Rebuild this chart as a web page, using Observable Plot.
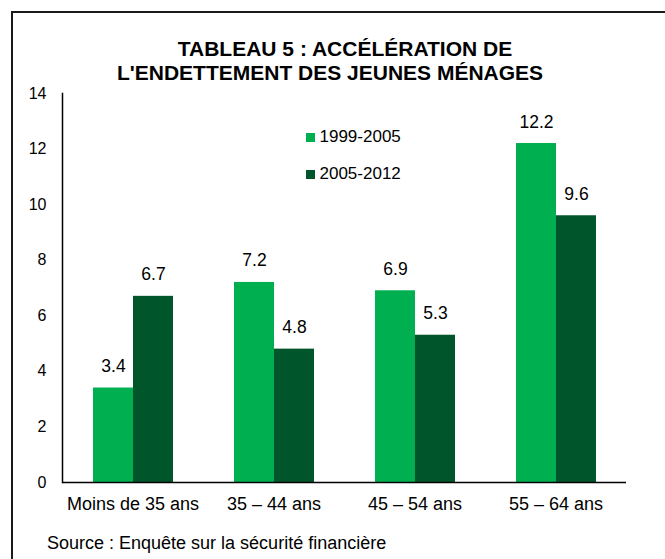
<!DOCTYPE html>
<html><head><meta charset="utf-8">
<script src="https://cdn.jsdelivr.net/npm/d3@7"></script>
<script src="https://cdn.jsdelivr.net/npm/@observablehq/plot@0.6"></script>
<style>
body{margin:0;background:#fff;font-family:"Liberation Sans",Arial,sans-serif;color:#000}
#wrap{position:relative;width:665px;height:559px;overflow:hidden;background:#fff}
.abs{position:absolute;white-space:nowrap;line-height:1}
#wrap svg{position:absolute;left:0;top:0}
</style></head><body><div id="wrap"></div>
<script>
const categories = ["Moins de 35 ans", "35 – 44 ans", "45 – 54 ans", "55 – 64 ans"];
const series = ["1999-2005", "2005-2012"];
const values1999 = [3.4, 7.2, 6.9, 12.2];
const values2005 = [6.7, 4.8, 5.3, 9.6];
const yTicks = [0, 2, 4, 6, 8, 10, 12, 14];
const colors = ["#00b050", "#00552a"];
const titleLines = ["TABLEAU 5 : ACCÉLÉRATION DE", "L'ENDETTEMENT DES JEUNES MÉNAGES"];
const sourceText = "Source : Enquête sur la sécurité financière";

const data = categories.flatMap((c, i) => [
  {category: c, series: series[0], value: values1999[i]},
  {category: c, series: series[1], value: values2005[i]}
]);

const FONT = '"Liberation Sans", Arial, sans-serif';
const wrap = document.getElementById("wrap");

// border
const border = document.createElement("div");
border.style.cssText = "position:absolute;left:11px;top:11px;width:700px;height:600px;border:2px solid #1a1a1a;box-sizing:border-box";
wrap.appendChild(border);

const chart = Plot.plot({
  width: 665, height: 559,
  marginLeft: 62, marginRight: 39, marginTop: 93, marginBottom: 77,
  style: {fontFamily: FONT, color: "#000", background: "transparent"},
  fx: {domain: categories, padding: 0},
  x: {domain: series, paddingInner: 0, paddingOuter: 0.7625},
  y: {domain: [0, 14]},
  color: {domain: series, range: colors},
  marks: [
    Plot.barY(data, {fx: "category", x: "series", y: "value", fill: "series"}),
    Plot.text(data, {fx: "category", x: "series", y: "value", text: d => d.value.toFixed(1), lineAnchor: "bottom", dy: -16, fontSize: 17.5, fill: "#000"}),
    Plot.ruleY([0], {stroke: "#000", strokeWidth: 1.5}),
    Plot.frame({anchor: "left", facetAnchor: "left", stroke: "#000", strokeWidth: 1.5}),
    Plot.axisY({ticks: yTicks, tickSize: 0, tickPadding: 16, fontSize: 16, label: null, tickFormat: d => String(d)}),
    Plot.axisFx({anchor: "bottom", tickSize: 0, tickPadding: 15, fontSize: 18, label: null}),
    Plot.axisX({ticks: [], label: null, tickSize: 0})
  ]
});
wrap.appendChild(chart);

function addText(txt, opts) {
  const d = document.createElement("div");
  d.className = "abs";
  d.textContent = txt;
  const fs = opts.fontSize;
  let css = `font-size:${fs}px;font-weight:${opts.bold ? "bold" : "normal"};top:${opts.baseline - 0.8465 * fs}px;`;
  if (opts.center != null) css += `left:${opts.center - 300}px;width:600px;text-align:center;`;
  else css += `left:${opts.left}px;`;
  d.style.cssText = css;
  wrap.appendChild(d);
}

addText(titleLines[0], {fontSize: 21, bold: true, baseline: 55.4, center: 345});
addText(titleLines[1], {fontSize: 21, bold: true, baseline: 80, center: 330});
addText(sourceText, {fontSize: 18, baseline: 549, left: 47});

// legend
const legendRows = [{y: 133, base: 142.7}, {y: 170, base: 179.3}];
series.forEach((s, i) => {
  const sw = document.createElement("div");
  sw.style.cssText = `position:absolute;left:306px;top:${legendRows[i].y}px;width:9px;height:9px;background:${colors[i]}`;
  wrap.appendChild(sw);
  addText(s, {fontSize: 17, baseline: legendRows[i].base, left: 319.5});
});
</script></body></html>
